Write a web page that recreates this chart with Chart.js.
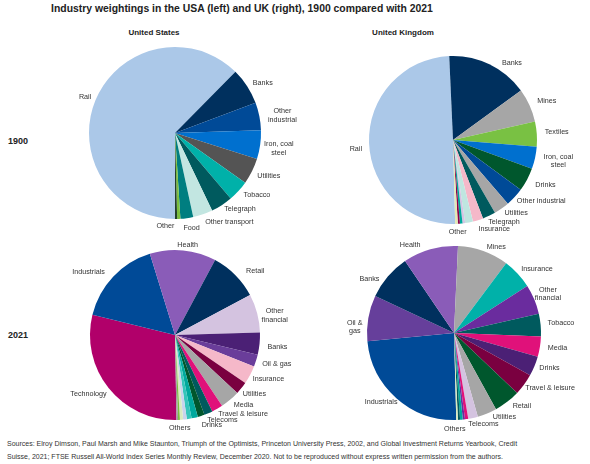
<!DOCTYPE html>
<html>
<head>
<meta charset="utf-8">
<script src="https://cdn.jsdelivr.net/npm/chart.js@4"></script>
<style>
  html, body { margin: 0; padding: 0; background: #fff; }
  body { width: 590px; height: 464px; position: relative; overflow: hidden;
         font-family: "Liberation Sans", Arial, sans-serif; color: #222; }
  .txt { position: absolute; white-space: nowrap; }
  #title { left: 0; width: 484px; top: 3px; text-align: center; font-weight: bold; font-size: 10.4px; }
  .country { top: 28px; width: 120px; text-align: center; font-weight: bold; font-size: 8px; }
  .year { left: 8px; font-weight: bold; font-size: 9px; }
  #sources { left: 7px; top: 438px; font-size: 7px; line-height: 12.5px; color: #333; }
  canvas { position: absolute; }
</style>
</head>
<body>
<div id="title" class="txt">Industry weightings in the USA (left) and UK (right), 1900 compared with 2021</div>
<div class="txt country" style="left:94px">United States</div>
<div class="txt country" style="left:343px">United Kingdom</div>
<div class="txt year" style="top:136px">1900</div>
<div class="txt year" style="top:330px">2021</div>
<div id="sources" class="txt">Sources: Elroy Dimson, Paul Marsh and Mike Staunton, Triumph of the Optimists, Princeton University Press, 2002, and Global Investment Returns Yearbook, Credit<br>Suisse, 2021; FTSE Russell All-World Index Series Monthly Review, December 2020. Not to be reproduced without express written permission from the authors.</div>

<canvas id="us1900" width="290" height="214" style="left:30px;top:26px"></canvas>
<canvas id="uk1900" width="290" height="214" style="left:308px;top:33px"></canvas>
<canvas id="us2021" width="290" height="214" style="left:30px;top:228px"></canvas>
<canvas id="uk2021" width="290" height="214" style="left:309px;top:226px"></canvas>

<script>
// ---- data (% of market) ----
const us1900Labels = ["Rail", "Banks", ["Other", "industrial"], ["Iron, coal", "steel"], "Utilities", "Tobacco",
  "Telegraph", "Other transport", "Food", "Other", ""];
const us1900Values = [62.4, 6.9, 5.2, 5.4, 4.9, 4.0, 4.1, 3.7, 2.4, 0.6, 0.4];
const us1900Colors = ["#abc8e8", "#00305e", "#004a97", "#0070cf", "#545454", "#00b1a9",
  "#005a5e", "#c2e6e1", "#007e80", "#7bbf3e", "#24402c"];

const uk1900Labels = ["Rail", "Banks", "Mines", "Textiles", ["Iron, coal", "steel"], "Drinks", "Other industrial",
  "Utilities", "Telegraph", "Insurance", "", "", "Other", "", ""];
const uk1900Values = [49.7, 15.7, 6.5, 4.8, 4.3, 4.5, 3.6, 3.0, 2.5, 2.0, 1.5, 0.5, 0.5, 0.4, 0.5];
const uk1900Colors = ["#abc8e8", "#00305e", "#a6a6a6", "#79c143", "#0070cf", "#00572d", "#004a97",
  "#a6a6a6", "#005a5e", "#f5b8c9", "#bfe6e0", "#d3c4e3", "#00a99d", "#8b004b", "#e3e8b4"];

const us2021Labels = ["Technology", "Industrials", "Health", "Retail", ["Other", "financial"], "Banks", "Oil & gas",
  "Insurance", "Utilities", "Media", "Travel & leisure", "Telecoms", "Drinks", "", "", "", "Others", "", ""];
const us2021Values = [29.1, 16.4, 12.6, 9.4, 7.3, 4.2, 2.3, 3.5, 2.4, 3.75, 2.1, 1.6, 1.3,
  1.2, 0.9, 0.7, 0.6, 0.35, 0.3];
const us2021Colors = ["#b1006a", "#004a97", "#8a5cb8", "#00305e", "#d4c3e0", "#4b2075", "#6a3d9a",
  "#f5b8c9", "#7a0040", "#a6a6a6", "#e0117a", "#005a5e", "#00572d",
  "#00a99d", "#35c5ba", "#c9d3ec", "#d9eac0", "#7bbf3e", "#9a9a9a"];

const uk2021Labels = ["Industrials", ["Oil &", "gas"], "Banks", "Health", "Mines", "Insurance", ["Other", "financial"],
  "Tobacco", "Media", "Drinks", "Travel & leisure", "Retail", "Utilities", "Telecoms", "", "", "Others", "", ""];
const uk2021Values = [23.9, 8.5, 8.5, 10.25, 9.5, 5.7, 5.5, 4.2, 3.75, 3.7, 4.0, 4.9, 3.6, 1.8,
  0.6, 0.4, 0.5, 0.4, 0.3];
const uk2021Colors = ["#004a97", "#663f9b", "#00305e", "#8a5cb8", "#a6a6a6", "#00b1a9", "#6a2c9e",
  "#005a5e", "#e0117a", "#4b2075", "#7a0040", "#00572d", "#a6a6a6", "#d4c3e0",
  "#e0117a", "#6a2c9e", "#00a99d", "#005a5e", "#d9eac0"];

// hand nudges (px) for crowded labels, like the spreadsheet's own label placement
const nudges = {
  us1900: {
    "Banks": [3, 2], "Other industrial": [4, 2], "Iron, coal steel": [-1, 2], "Utilities": [2, 1],
    "Tobacco": [5, -2], "Telegraph": [7, -4], "Other transport": [17, -1], "Food": [3, 1], "Other": [-14, -2],
  },
  uk1900: {
    "Rail": [-2, 6], "Banks": [16, 7], "Mines": [4, -1], "Textiles": [3, -1], "Iron, coal steel": [4, 0],
    "Drinks": [5, 1], "Other industrial": [5, -2], "Utilities": [5, -3], "Telegraph": [6, -2],
    "Insurance": [10, 0], "Other": [-5, -1],
  },
  us2021: {
    "Industrials": [-9, 2], "Health": [3, 4], "Retail": [10, 3], "Other financial": [0, 6], "Banks": [3, 2],
    "Oil & gas": [2, 1], "Media": [4, -2], "Travel & leisure": [11, -3], "Telecoms": [6, -2],
    "Drinks": [6, 0], "Others": [-3, -1], "Technology": [-2, 0],
  },
  uk2021: {
    "Industrials": [-1, -3], "Oil & gas": [-1, 11], "Banks": [-7, 8], "Health": [-16, 5], "Mines": [8, 5],
    "Insurance": [4, 2], "Other financial": [-3, 0], "Tobacco": [2, -1], "Media": [3, 0], "Drinks": [1, -2],
    "Travel & leisure": [2, -2], "Retail": [6, -3], "Utilities": [11, -5], "Telecoms": [6, -3], "Others": [-8, 0],
  },
};

const outsideLabels = {
  id: "outsideLabels",
  afterDatasetsDraw(chart) {
    const ctx = chart.ctx;
    const meta = chart.getDatasetMeta(0);
    const extra = nudges[chart.canvas.id] || {};
    ctx.save();
    ctx.font = "7.2px 'Liberation Sans', Arial, sans-serif";
    ctx.fillStyle = "#333";
    ctx.textAlign = "center";
    ctx.textBaseline = "middle";
    const lineH = 8.5;
    meta.data.forEach((arc, i) => {
      const label = chart.data.labels[i];
      if (!label) return;
      const lines = Array.isArray(label) ? label : [label];
      const p = arc.getProps(["x", "y", "startAngle", "endAngle", "outerRadius"], true);
      const mid = (p.startAngle + p.endAngle) / 2;
      const cos = Math.cos(mid), sin = Math.sin(mid);
      const w = Math.max(...lines.map((l) => ctx.measureText(l).width));
      const h = lines.length * lineH;
      const r = p.outerRadius + 5;
      const n = extra[lines.join(" ")] || [0, 0];
      const cx = p.x + cos * r + cos * w / 2 + n[0];
      const cy = p.y + sin * r + sin * h / 2 + n[1];
      lines.forEach((l, j) => {
        ctx.fillText(l, cx, cy - h / 2 + lineH * (j + 0.5));
      });
    });
    ctx.restore();
  },
};

function drawPie(id, labels, values, colors, rotation, radius) {
  new Chart(document.getElementById(id), {
    type: "pie",
    data: {
      labels: labels,
      datasets: [{ data: values, backgroundColor: colors, borderWidth: 0 }],
    },
    options: {
      responsive: false,
      animation: false,
      rotation: rotation,
      radius: radius,
      layout: { padding: 0 },
      plugins: { legend: { display: false }, tooltip: { enabled: false } },
    },
    plugins: [outsideLabels],
  });
}

drawPie("us1900", us1900Labels, us1900Values, us1900Colors, 180, 86);
drawPie("uk1900", uk1900Labels, uk1900Values, uk1900Colors, 178.5, 84);
drawPie("us2021", us2021Labels, us2021Values, us2021Colors, 179, 85);
drawPie("uk2021", uk2021Labels, uk2021Values, uk2021Colors, 178.5, 87);
</script>
</body>
</html>
